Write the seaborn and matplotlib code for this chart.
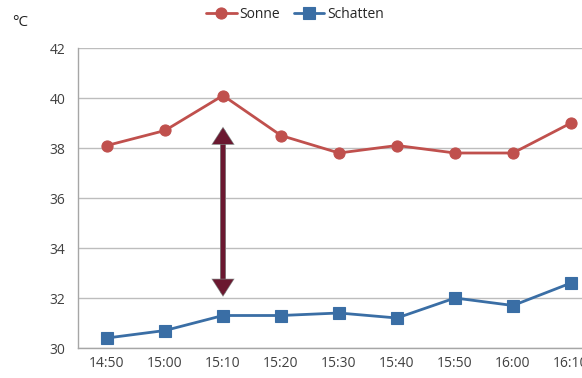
import matplotlib
matplotlib.use("Agg")
import matplotlib.pyplot as plt
import matplotlib.patheffects as pe
import seaborn as sns
import pandas as pd

times = ["14:50", "15:00", "15:10", "15:20", "15:30", "15:40", "15:50", "16:00", "16:10"]
sonne = [38.1, 38.7, 40.1, 38.5, 37.8, 38.1, 37.8, 37.8, 39.0]
schatten = [30.4, 30.7, 31.3, 31.3, 31.4, 31.2, 32.0, 31.7, 32.6]
y_ticks = [30, 32, 34, 36, 38, 40, 42]
arrow_top, arrow_bottom = 38.8, 32.1

df = pd.DataFrame({
    "Zeit": times * 2,
    "Temperatur": sonne + schatten,
    "Serie": ["Sonne"] * len(times) + ["Schatten"] * len(times),
})

sns.set_style("white")
plt.rcParams["font.family"] = ["Open Sans", "DejaVu Sans"]

fig = plt.figure(figsize=(5.82, 3.78), dpi=100)
ax = fig.add_axes([78 / 582, 30 / 378, 522 / 582, 300 / 378])

palette = {"Sonne": "#c0504d", "Schatten": "#3a6ea5"}
sns.lineplot(
    data=df, x="Zeit", y="Temperatur", hue="Serie", style="Serie",
    markers={"Sonne": "o", "Schatten": "s"}, dashes=False, palette=palette,
    linewidth=2.0, markersize=8, markeredgewidth=0.8, ax=ax, legend=True, sort=False,
)
for line in ax.lines:
    line.set_markeredgecolor(line.get_color())

ax.set_xlim(-0.5, len(times) - 0.5)
ax.set_ylim(30, 42)
ax.set_yticks(y_ticks)
ax.set_xticks(range(len(times)))
ax.set_xticklabels(times)
ax.set_xticks([i - 0.5 for i in range(len(times) + 1)], minor=True)
ax.tick_params(axis="x", which="major", length=0, pad=6, labelsize=10, colors="#404040")
ax.tick_params(axis="x", which="minor", length=5, color="#a6a6a6", width=1)
ax.tick_params(axis="y", length=5, color="#a6a6a6", width=1, labelsize=10, colors="#404040", pad=4)
ax.grid(axis="y", color="#bdbdbd", linewidth=1)
ax.set_axisbelow(True)
for s in ["top", "right"]:
    ax.spines[s].set_visible(False)
for s in ["left", "bottom"]:
    ax.spines[s].set_color("#a6a6a6")
    ax.spines[s].set_linewidth(1)
ax.set_xlabel("")
ax.set_ylabel("")

# double-headed arrow showing the gap between sun and shade at 15:10
ax.annotate(
    "", xy=(2, arrow_bottom), xytext=(2, arrow_top),
    arrowprops=dict(arrowstyle="<|-|>,head_length=0.7,head_width=0.45",
                    color="#6b1830", lw=3.2, shrinkA=0, shrinkB=0, joinstyle="miter",
                    path_effects=[pe.withStroke(linewidth=4.2, foreground="#808080")]),
)

handles, labels = ax.get_legend_handles_labels()
ax.legend_.remove()
fig.legend(handles, labels, loc="center", bbox_to_anchor=(295 / 582, 1 - 14 / 378),
           ncol=2, frameon=False, fontsize=10, handlelength=2.2, handletextpad=0.2,
           columnspacing=1.0)

fig.text(12 / 582, 1 - 22 / 378, "°C", fontsize=11, color="#202020", va="center", ha="left")

fig.savefig("out.png", dpi=100, facecolor="white")
